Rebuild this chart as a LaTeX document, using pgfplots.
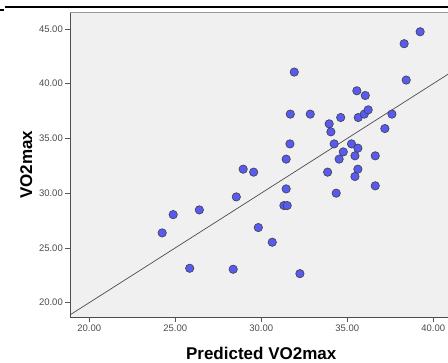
\documentclass[border=0pt]{standalone}
\usepackage{pgfplots}
\pgfplotsset{compat=1.18}
\usepackage{fontspec}
\setmainfont{Liberation Sans}
\definecolor{ptfill}{RGB}{88,90,242}
\definecolor{bgc}{RGB}{240,240,240}
\begin{document}
\begin{tikzpicture}
\useasboundingbox (0,0) rectangle (448bp,363bp);
\fill[white] (0,0) rectangle (448bp,363bp);
\draw[line width=2.3bp,black] (4.5bp,355.8bp) -- (448bp,355.8bp);
\draw[line width=1.4bp,black] (0bp,352.8bp) -- (4bp,352.8bp);
\begin{axis}[
  at={(70bp,46bp)}, anchor=south west,
  scale only axis, width=389bp, height=304.5bp,
  xmin=18.88, xmax=41.5, ymin=18.69, ymax=46.5,
  axis background/.style={fill=bgc},
  axis x line*=bottom, axis y line*=left,
  axis line style={draw=black!70, line width=0.9bp, -},
  xtick={20,25,30,35,40}, ytick={20,25,30,35,40,45},
  tick align=outside,
  major tick length=5bp,
  tick style={draw=black!65, line width=0.8bp},
  /pgf/number format/.cd, fixed, fixed zerofill, precision=2, assume math mode=true,
  /pgfplots/.cd,
  ticklabel style={font=\fontsize{9.5bp}{11bp}\selectfont, text=black!70},
  xticklabel style={inner sep=1bp, yshift=-2bp},
  yticklabel style={inner sep=1bp, xshift=-1bp},
  clip=false,
]
\draw[black!40, line width=0.9bp] (rel axis cs:0,1) -- (rel axis cs:1,1);
\addplot[draw=black!70, line width=0.7bp, no marks] coordinates {(18.88,18.88) (41.5,41.5)};
\addplot[only marks, mark=*, mark size=4.2bp,
  mark options={fill=ptfill, draw=black!75, line width=0.6bp}] coordinates {
(39.24,44.74) (38.31,43.65) (31.92,41.06) (38.43,40.33) (35.56,39.35)
(36.05,38.92) (31.69,37.22) (32.85,37.22) (34.62,36.91) (35.64,36.91)
(35.99,37.22) (36.22,37.61) (37.60,37.22) (33.95,36.33) (34.05,35.60)
(37.19,35.90) (31.67,34.50) (34.24,34.50) (35.25,34.50) (35.62,34.11)
(34.77,33.77) (35.45,33.41) (36.63,33.41) (31.45,33.11) (34.53,33.11)
(29.56,31.92) (33.86,31.92) (35.62,32.19) (35.45,31.52) (28.95,32.19)
(36.63,30.67) (31.45,30.39) (34.36,30.00) (28.55,29.66) (31.32,28.87)
(31.51,28.87) (24.88,28.04) (26.40,28.47) (29.83,26.86) (24.24,26.37)
(30.64,25.52) (25.84,23.14) (28.37,23.05) (32.25,22.65)
};
\end{axis}
\node[rotate=90, anchor=base, font=\bfseries\fontsize{17bp}{20bp}\selectfont] at (32bp,198.25bp) {VO2max};
\node[anchor=base, font=\bfseries\fontsize{17bp}{20bp}\selectfont] at (261.2bp,4bp) {Predicted VO2max};
\end{tikzpicture}
\end{document}
